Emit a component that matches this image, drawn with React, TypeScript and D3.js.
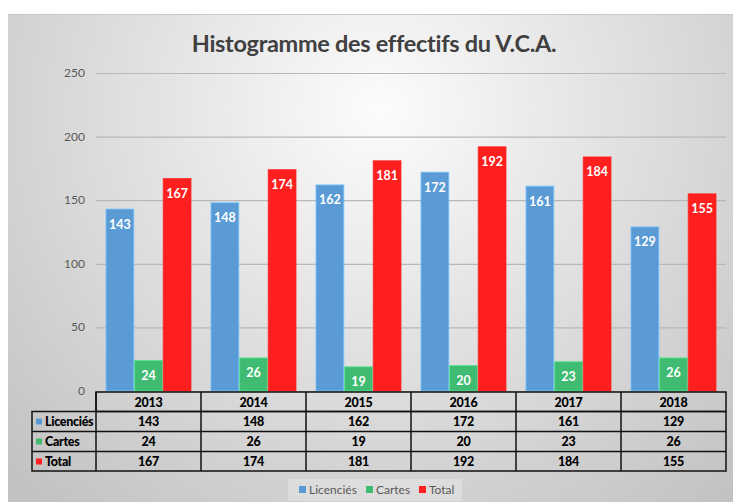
import React, { useEffect, useRef } from 'react';
import * as d3 from 'd3';

const years = ['2013', '2014', '2015', '2016', '2017', '2018'];
const seriesNames = ['Licenciés', 'Cartes', 'Total'];
const licencies = [143, 148, 162, 172, 161, 129];
const cartes = [24, 26, 19, 20, 23, 26];
const total = [167, 174, 181, 192, 184, 155];
const yTicks = [0, 50, 100, 150, 200, 250];
const colors = ['#5b9bd5', '#3fbc72', '#ff1f1f'];

const W = 733;
const H = 502;

const App: React.FC = () => {
  const svgRef = useRef<SVGSVGElement>(null);

  useEffect(() => {
    if (!svgRef.current) return;
    const svg = d3.select(svgRef.current);
    svg.selectAll('*').remove();

    const values = [licencies, cartes, total];
    const font = 'Lato, "Open Sans", sans-serif';

    // background gradient
    const defs = svg.append('defs');
    const grad = defs.append('radialGradient')
      .attr('id', 'bg')
      .attr('gradientUnits', 'userSpaceOnUse')
      .attr('cx', 380).attr('cy', 110).attr('r', 520);
    grad.append('stop').attr('offset', '0').attr('stop-color', '#fcfcfc');
    grad.append('stop').attr('offset', '0.55').attr('stop-color', '#dcdcdc');
    grad.append('stop').attr('offset', '1').attr('stop-color', '#c2c2c2');

    svg.append('rect').attr('x', 0).attr('y', 0).attr('width', W).attr('height', H).attr('fill', '#fff');
    svg.append('rect')
      .attr('x', 8).attr('y', 14).attr('width', W - 8).attr('height', H - 14)
      .attr('fill', 'url(#bg)');
    svg.append('line')
      .attr('x1', 8).attr('x2', W).attr('y1', 14.5).attr('y2', 14.5)
      .attr('stroke', '#c8c8c8').attr('stroke-width', 1);

    // title
    svg.append('text')
      .attr('x', 374).attr('y', 52)
      .attr('text-anchor', 'middle')
      .attr('font-family', font)
      .attr('font-size', 23.5)
      .attr('font-weight', 700)
      .attr('fill', '#404040')
      .attr('letter-spacing', -0.3)
      .text('Histogramme des effectifs du V.C.A.');

    const x = d3.scaleBand<string>().domain(years).range([96, 726]);
    const xInner = d3.scaleBand<string>().domain(seriesNames).range([10, 95]).paddingInner(0.03);
    const y = d3.scaleLinear().domain([0, 250]).range([391, 73]);

    // gridlines + tick labels
    const grid = svg.append('g');
    grid.selectAll('line')
      .data(yTicks)
      .join('line')
      .attr('x1', 96).attr('x2', 726)
      .attr('y1', d => y(d) + 0.5).attr('y2', d => y(d) + 0.5)
      .attr('stroke', '#b8b8b8').attr('stroke-width', 1.2);
    grid.selectAll('text')
      .data(yTicks)
      .join('text')
      .attr('x', 85).attr('y', d => y(d) + 4)
      .attr('text-anchor', 'end')
      .attr('font-family', font)
      .attr('font-size', 12)
      .attr('fill', '#595959')
      .text(d => d);

    // bars
    seriesNames.forEach((s, si) => {
      const g = svg.append('g');
      const data = years.map((yr, i) => ({ yr, v: values[si][i] }));
      g.selectAll('rect')
        .data(data)
        .join('rect')
        .attr('x', d => (x(d.yr) || 0) + (xInner(s) || 0))
        .attr('y', d => y(d.v))
        .attr('width', xInner.bandwidth())
        .attr('height', d => y(0) - y(d.v))
        .attr('fill', colors[si])
        .attr('stroke', d3.color(colors[si])!.brighter(0.6).formatHex())
        .attr('stroke-opacity', 0.8)
        .attr('stroke-width', 1);
      g.selectAll('text')
        .data(data)
        .join('text')
        .attr('x', d => (x(d.yr) || 0) + (xInner(s) || 0) + xInner.bandwidth() / 2)
        .attr('y', d => y(d.v) + 19.5)
        .attr('text-anchor', 'middle')
        .attr('font-family', font)
        .attr('font-size', 12.5)
        .attr('font-weight', 700)
        .attr('fill', '#fff')
        .text(d => d.v);
    });

    // data table
    const tbl = svg.append('g');
    const rowTop = [392, 411.5, 431.5, 451.5];
    const rowBottom = 471;
    const labelLeft = 32;
    const stroke = '#111';
    // header
    tbl.append('rect')
      .attr('x', 96).attr('y', rowTop[0]).attr('width', 630).attr('height', rowTop[1] - rowTop[0])
      .attr('fill', 'none').attr('stroke', stroke).attr('stroke-width', 1.5);
    tbl.append('rect')
      .attr('x', labelLeft).attr('y', rowTop[1]).attr('width', 726 - labelLeft).attr('height', rowBottom - rowTop[1])
      .attr('fill', 'none').attr('stroke', stroke).attr('stroke-width', 1.5);
    [rowTop[2], rowTop[3]].forEach(ry => {
      tbl.append('line').attr('x1', labelLeft).attr('x2', 726).attr('y1', ry).attr('y2', ry)
        .attr('stroke', stroke).attr('stroke-width', 1.5);
    });
    years.forEach((yr, i) => {
      const bx = x(yr) || 0;
      if (i > 0) {
        tbl.append('line').attr('x1', bx).attr('x2', bx).attr('y1', rowTop[0]).attr('y2', rowBottom)
          .attr('stroke', stroke).attr('stroke-width', 1.5);
      }
    });
    tbl.append('line').attr('x1', 96).attr('x2', 96).attr('y1', rowTop[0]).attr('y2', rowBottom)
      .attr('stroke', stroke).attr('stroke-width', 1.5);

    const cellText = (tx: number, ty: number, t: string | number, anchor = 'middle') =>
      tbl.append('text')
        .attr('x', tx).attr('y', ty)
        .attr('text-anchor', anchor)
        .attr('font-family', font)
        .attr('font-size', 12.5)
        .attr('font-weight', 900)
        .attr('fill', '#000')
        .attr('letter-spacing', -0.3)
        .text(t);

    years.forEach(yr => {
      cellText((x(yr) || 0) + x.bandwidth() / 2, rowTop[0] + 14.5, yr);
    });
    seriesNames.forEach((s, si) => {
      const ry = rowTop[si + 1];
      tbl.append('rect')
        .attr('x', 36).attr('y', ry + 7).attr('width', 6).attr('height', 6)
        .attr('fill', colors[si]);
      cellText(45, ry + 14.5, s, 'start');
      years.forEach((yr, i) => {
        cellText((x(yr) || 0) + x.bandwidth() / 2, ry + 14.5, values[si][i]);
      });
    });

    // legend
    const leg = svg.append('g');
    leg.append('rect')
      .attr('x', 288).attr('y', 479).attr('width', 174).attr('height', 22)
      .attr('fill', '#ffffff').attr('opacity', 0.25);
    const legX = [299, 366, 419];
    seriesNames.forEach((s, si) => {
      leg.append('rect')
        .attr('x', legX[si]).attr('y', 486).attr('width', 7).attr('height', 7)
        .attr('fill', colors[si]);
      leg.append('text')
        .attr('x', legX[si] + 10).attr('y', 494)
        .attr('font-family', font)
        .attr('font-size', 12)
        .attr('fill', '#595959')
        .text(s);
    });
  }, []);

  return (
    <div style={{ position: 'absolute', left: 0, top: 0, width: W, height: H }}>
      <svg ref={svgRef} width={W} height={H} style={{ display: 'block' }} />
    </div>
  );
};

export default App;
